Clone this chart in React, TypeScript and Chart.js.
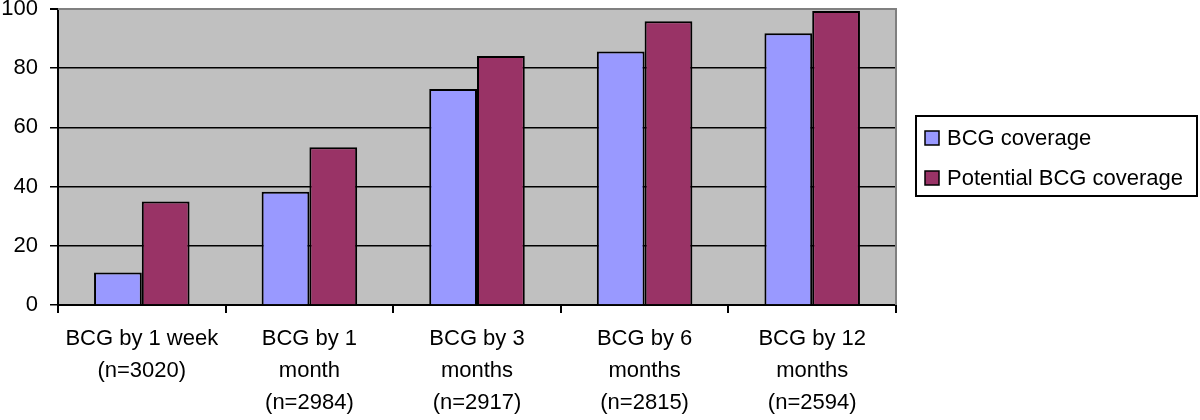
import React, { useEffect, useRef } from "react";
import { Chart, registerables } from "chart.js";

Chart.register(...registerables);

const categories: string[][] = [
  ["BCG by 1 week", "(n=3020)"],
  ["BCG by 1", "month", "(n=2984)"],
  ["BCG by 3", "months", "(n=2917)"],
  ["BCG by 6", "months", "(n=2815)"],
  ["BCG by 12", "months", "(n=2594)"],
];
const seriesNames = ["BCG coverage", "Potential BCG coverage"];
const bcgCoverage = [11, 38.3, 73, 85.6, 91.8];
const potentialCoverage = [35, 53.3, 84.1, 95.9, 99.3];
const yTicks = [0, 20, 40, 60, 80, 100];

const FONT = "'Liberation Sans', Arial, sans-serif";

const plotBg = {
  id: "plotBg",
  beforeDraw(chart: any) {
    const { ctx, chartArea: a } = chart;
    ctx.save();
    ctx.fillStyle = "#c0c0c0";
    ctx.fillRect(a.left, a.top, a.right - a.left, a.bottom - a.top);
    ctx.restore();
  },
  beforeDatasetsDraw(chart: any) {
    const { ctx, chartArea: a } = chart;
    ctx.save();
    ctx.strokeStyle = "#808080";
    ctx.lineWidth = 2;
    ctx.beginPath();
    ctx.moveTo(a.left, a.top);
    ctx.lineTo(a.right, a.top);
    ctx.lineTo(a.right, a.bottom);
    ctx.stroke();
    ctx.restore();
  },
  afterDraw(chart: any) {
    const { ctx } = chart;
    ctx.save();
    const x0 = 916, y0 = 116, x1 = 1197, y1 = 196;
    ctx.fillStyle = "#fff";
    ctx.fillRect(x0, y0, x1 - x0, y1 - y0);
    ctx.strokeStyle = "#000";
    ctx.lineWidth = 2;
    ctx.strokeRect(x0, y0, x1 - x0, y1 - y0);
    ctx.font = `22px ${FONT}`;
    ctx.textBaseline = "middle";
    chart.data.datasets.forEach((ds: any, i: number) => {
      const cy = 138 + i * 40;
      ctx.fillStyle = ds.backgroundColor;
      ctx.fillRect(925, cy - 7, 14, 14);
      ctx.lineWidth = 1.5;
      ctx.strokeStyle = "#000";
      ctx.strokeRect(925, cy - 7, 14, 14);
      ctx.fillStyle = "#000";
      ctx.fillText(ds.label, 947, cy + 1);
    });
    ctx.restore();
  },
};

export default function App() {
  const ref = useRef<HTMLCanvasElement>(null);
  useEffect(() => {
    document.body.style.margin = "0";
    const chart = new Chart(ref.current!, {
      type: "bar",
      data: {
        labels: categories,
        datasets: [
          {
            label: seriesNames[0],
            data: bcgCoverage,
            backgroundColor: "#9999ff",
            borderColor: "#000",
            borderWidth: 2,
            categoryPercentage: 0.57,
            barPercentage: 1,
          },
          {
            label: seriesNames[1],
            data: potentialCoverage,
            backgroundColor: "#993366",
            borderColor: "#000",
            borderWidth: 2,
            categoryPercentage: 0.57,
            barPercentage: 1,
          },
        ],
      },
      options: {
        animation: false,
        responsive: false,
        maintainAspectRatio: false,
        layout: { padding: { top: 9, right: 304, left: 0, bottom: 0 } },
        plugins: { legend: { display: false }, tooltip: { enabled: false } },
        scales: {
          x: {
            afterFit(scale: any) {
              scale.height = 115;
              scale.paddingLeft = 0;
              scale.paddingRight = 0;
            },
            border: { color: "#000", width: 2 },
            grid: {
              drawOnChartArea: false,
              drawTicks: true,
              tickLength: 8,
              tickColor: "#000",
              lineWidth: 2,
              offset: true,
            },
            ticks: {
              color: "#000",
              font: { family: FONT, size: 22, lineHeight: 1.45 },
              padding: 10,
              maxRotation: 0,
              autoSkip: false,
            },
          },
          y: {
            min: 0,
            max: 100,
            afterFit(scale: any) {
              scale.width = 58;
              scale.paddingTop = 0;
              scale.paddingBottom = 0;
            },
            afterBuildTicks(scale: any) {
              scale.ticks = yTicks.map((v) => ({ value: v }));
            },
            border: { color: "#000", width: 2 },
            grid: {
              color: (c: any) => (c.tick && c.tick.value === 100 ? "#808080" : "#000"),
              lineWidth: (c: any) => (c.tick && c.tick.value === 100 ? 2 : 1.5),
              drawTicks: true,
              tickLength: 8,
              tickColor: "#000",
            },
            ticks: {
              color: "#000",
              font: { family: FONT, size: 22 },
              padding: 12,
            },
          },
        },
      },
      plugins: [plotBg],
    });
    return () => chart.destroy();
  }, []);
  return (
    <div style={{ width: 1200, height: 420 }}>
      <canvas ref={ref} width={1200} height={420} style={{ display: "block" }} />
    </div>
  );
}
